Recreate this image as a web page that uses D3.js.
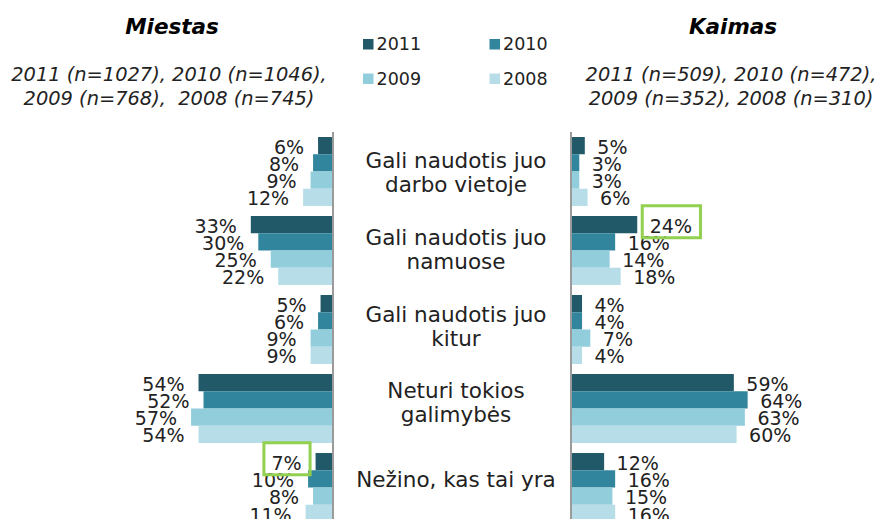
<!DOCTYPE html>
<html lang="lt">
<head>
  <meta charset="UTF-8">
  <title>Miestas / Kaimas</title>
  <script src="https://d3js.org/d3.v7.min.js"></script>
  <style>
    body {
      margin: 0;
      padding: 0;
      background: #fff;
      font-family: "DejaVu Sans", Verdana, sans-serif;
    }
    text { fill: #222; }
    .pre { white-space: pre; }
  </style>
</head>
<body>
  <div id="vis"></div>

  <script>
    // data
    const years = ["2011", "2010", "2009", "2008"];
    const colors = ["#215968", "#31859C", "#92CDDC", "#B7DEE8"];

    const categories = [
      ["Gali naudotis juo", "darbo vietoje"],
      ["Gali naudotis juo", "namuose"],
      ["Gali naudotis juo", "kitur"],
      ["Neturi tokios", "galimybės"],
      ["Nežino, kas tai yra"]
    ];

    // one row per category, values in the order of `years`
    const miestas = [
      [6, 8, 9, 12],
      [33, 30, 25, 22],
      [5, 6, 9, 9],
      [54, 52, 57, 54],
      [7, 10, 8, 11]
    ];

    const kaimas = [
      [5, 3, 3, 6],
      [24, 16, 14, 18],
      [4, 4, 7, 4],
      [59, 64, 63, 60],
      [12, 16, 15, 16]
    ];

    const titles = ["Miestas", "Kaimas"];
    const samples = [
      ["2011 (n=1027), 2010 (n=1046),", "2009 (n=768),  2008 (n=745)"],
      ["2011 (n=509), 2010 (n=472),", "2009 (n=352), 2008 (n=310)"]
    ];

    // labels boxed in green: [side, category index, year index]
    const highlights = [
      ["kaimas", 1, 0],
      ["miestas", 4, 0]
    ];

    const width = 880, height = 519;
    const svg = d3.select("#vis").append("svg")
      .attr("width", width)
      .attr("height", height);

    const axisL = 333, axisR = 571;

    const y0 = d3.scaleBand()
      .domain(d3.range(categories.length))
      .range([137, 522])
      .paddingInner(0.127);
    const y1 = d3.scaleBand()
      .domain(years)
      .range([0, y0.bandwidth()]);
    const color = d3.scaleOrdinal().domain(years).range(colors);

    const xL = d3.scaleLinear().domain([0, 100]).range([axisL, axisL - 249]);
    const xR = d3.scaleLinear().domain([0, 100]).range([axisR, axisR + 276]);

    // category labels sit on their own, slightly tighter spacing
    const yCat = d3.scalePoint().domain(d3.range(categories.length)).range([172.7, 479.5]);

    const labelNodes = { miestas: {}, kaimas: {} };

    function drawSide(name, data, x, left) {
      const g = svg.append("g").attr("class", name);
      data.forEach((row, ci) => {
        row.forEach((v, yi) => {
          const yr = years[yi];
          const top = y0(ci) + y1(yr);
          g.append("rect")
            .attr("x", left ? x(v) : x(0))
            .attr("y", top)
            .attr("width", Math.abs(x(v) - x(0)))
            .attr("height", y1.bandwidth())
            .attr("fill", color(yr));

          const t = g.append("text")
            .attr("x", left ? x(v) - 14 : x(v) + 12.5)
            .attr("y", top + y1.bandwidth() - 0.5)
            .attr("text-anchor", left ? "end" : "start")
            .style("font-size", "19px")
            .text(v + "%");
          labelNodes[name][ci + "-" + yi] = t.node();
        });
      });
    }

    drawSide("miestas", miestas, xL, true);
    drawSide("kaimas", kaimas, xR, false);

    // axis lines
    [axisL, axisR].forEach(ax => {
      svg.append("line")
        .attr("x1", ax).attr("x2", ax)
        .attr("y1", 132).attr("y2", height)
        .attr("stroke", "#9a9a9a")
        .attr("stroke-width", 2);
    });

    // category labels
    const catX = 456, lineH = 24;
    categories.forEach((lines, ci) => {
      const c = yCat(ci);
      const base = lines.length === 2 ? c - 4.5 : c + 7.5;
      const t = svg.append("text")
        .attr("text-anchor", "middle")
        .style("font-size", "21.5px");
      lines.forEach((s, li) => {
        t.append("tspan")
          .attr("x", catX)
          .attr("y", base + li * lineH)
          .text(s);
      });
    });

    // titles and sample sizes
    const headX = [172, 731];
    titles.forEach((s, i) => {
      svg.append("text")
        .attr("x", headX[i] + (i ? 2 : 0))
        .attr("y", 34)
        .attr("text-anchor", "middle")
        .style("font-size", "21.5px")
        .style("font-weight", "bold")
        .style("font-style", "italic")
        .style("fill", "#000")
        .text(s);
      samples[i].forEach((line, li) => {
        svg.append("text")
          .attr("class", "pre")
          .attr("x", headX[i] - (i ? 0 : 3))
          .attr("y", 81 + li * 24)
          .attr("text-anchor", "middle")
          .style("font-size", "19.4px")
          .style("font-style", "italic")
          .text(line);
      });
    });

    // legend
    const legX = [363, 489.5], legY = [39, 73.5];
    years.forEach((yr, i) => {
      const lx = legX[i % 2], ly = legY[Math.floor(i / 2)];
      svg.append("rect")
        .attr("x", lx).attr("y", ly)
        .attr("width", 10.5).attr("height", 10.5)
        .attr("fill", color(yr));
      svg.append("text")
        .attr("x", lx + 13.5)
        .attr("y", ly + 11)
        .style("font-size", "17.5px")
        .text(yr);
    });

    // green boxes round the highlighted labels
    highlights.forEach(([side, ci, yi]) => {
      const b = labelNodes[side][ci + "-" + yi].getBBox();
      svg.append("rect")
        .attr("x", b.x - 7.5)
        .attr("y", b.y - 9)
        .attr("width", b.width + 16)
        .attr("height", b.height + 10)
        .attr("fill", "none")
        .attr("stroke", "#92D050")
        .attr("stroke-width", 3);
    });
  </script>
</body>
</html>
